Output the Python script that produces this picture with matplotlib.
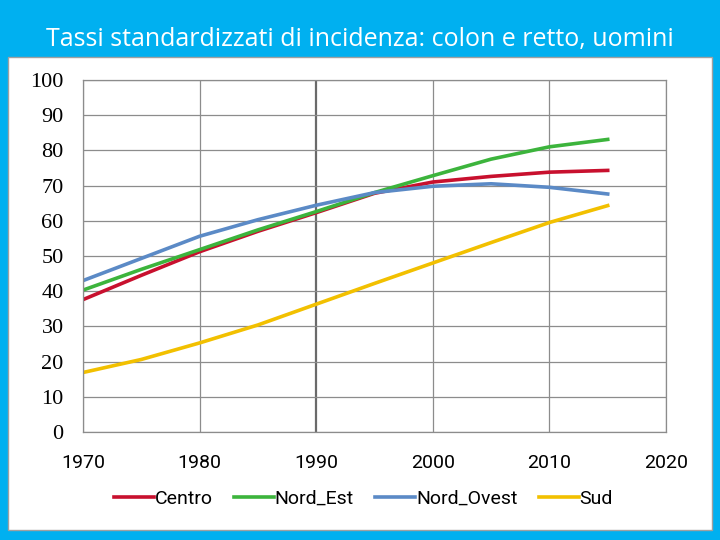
import matplotlib.pyplot as plt
from matplotlib.patches import Rectangle

# dati (tassi standardizzati, uomini)
anni = [1970, 1975, 1980, 1985, 1990, 1995, 2000, 2005, 2010, 2015]
centro = [37.6, 44.5, 51.2, 57.0, 62.3, 67.8, 71.0, 72.6, 73.8, 74.3]
nord_est = [40.3, 46.2, 51.8, 57.4, 62.6, 68.0, 72.8, 77.5, 81.0, 83.1]
nord_ovest = [43.0, 49.3, 55.6, 60.3, 64.4, 68.0, 69.8, 70.5, 69.5, 67.6]
sud = [16.9, 20.6, 25.3, 30.4, 36.3, 42.2, 48.0, 53.8, 59.5, 64.3]

serie = [
    ("Centro", centro, "#c8102e"),
    ("Nord_Est", nord_est, "#3cb43c"),
    ("Nord_Ovest", nord_ovest, "#5b8ac6"),
    ("Sud", sud, "#f2c000"),
]

sans = ["Roboto", "DejaVu Sans"]

fig = plt.figure(figsize=(7.2, 5.4), dpi=100, facecolor="#00b0f0")

# pannello bianco
fig.patches.append(Rectangle((0.011, 0.0185), 0.978, 0.8755, transform=fig.transFigure,
                             facecolor="white", edgecolor="#a0a0a0", linewidth=1.0, zorder=-5))

fig.text(0.5, 0.927, "Tassi standardizzati di incidenza: colon e retto, uomini",
         ha="center", va="center", color="white", fontsize=18, family=["Open Sans", "DejaVu Sans"])

ax = fig.add_axes([0.1153, 0.2, 0.8097, 0.652])
ax.set_zorder(2)
ax.patch.set_alpha(0)
for nome, valori, colore in serie:
    ax.plot(anni, valori, color=colore, linewidth=2.6, label=nome)

ax.set_xlim(1970, 2020)
ax.set_ylim(0, 100)
ax.set_xticks(range(1970, 2021, 10))
ax.set_yticks(range(0, 101, 10))
ax.grid(True, color="#8c8c8c", linewidth=0.9)
ax.set_axisbelow(True)
ax.get_xgridlines()[2].set_color("#6a6a6a")
ax.get_xgridlines()[2].set_linewidth(1.6)
for s in ax.spines.values():
    s.set_color("#8c8c8c")
    s.set_linewidth(0.9)
ax.tick_params(length=0)
ax.tick_params(axis="y", pad=14, labelsize=16)
ax.tick_params(axis="x", pad=16, labelsize=14)
for t in ax.get_yticklabels():
    t.set_family("Liberation Serif")
for t in ax.get_xticklabels():
    t.set_family(sans)

leg = ax.legend(loc="upper center", bbox_to_anchor=(0.481, -0.115), ncol=4, frameon=False,
                handlelength=2.05, handletextpad=0.05, columnspacing=1.1,
                prop={"family": sans, "size": 14})
for l in leg.get_lines():
    l.set_linewidth(2.6)

fig.savefig("out.png", dpi=100, facecolor=fig.get_facecolor())
